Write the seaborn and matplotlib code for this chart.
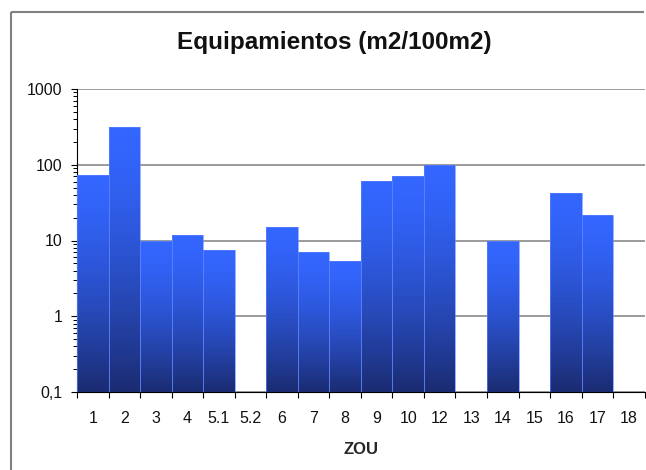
import numpy as np
import pandas as pd
import matplotlib
matplotlib.use("Agg")
import matplotlib.pyplot as plt
import matplotlib.ticker as mticker
from matplotlib.colors import to_rgb
from matplotlib.lines import Line2D
import seaborn as sns

categories = ['1', '2', '3', '4', '5.1', '5.2', '6', '7', '8', '9', '10',
              '12', '13', '14', '15', '16', '17', '18']
values = [73, 315, 10, 11.7, 7.5, 0, 15.3, 7.1, 5.4, 61, 70, 99, 0, 10, 0, 43, 22, 0]
ytick_values = [0.1, 1, 10, 100, 1000]
ytick_labels = ['0,1', '1', '10', '100', '1000']

TOP = np.array(to_rgb('#3366ff'))
BOTTOM = np.array(to_rgb('#1a2b70'))

sns.set_theme(style='white')
plt.rcParams['font.family'] = ['Liberation Sans', 'DejaVu Sans']

fig = plt.figure(figsize=(6.46, 4.70), dpi=100)
ax = fig.add_axes([77 / 646, 1 - 392 / 470, 1 - 77 / 646 - 0.002, (392 - 89) / 470])

df = pd.DataFrame({'ZOU': categories, 'valor': values})
sns.barplot(data=df, x='ZOU', y='valor', order=categories, width=1.0,
            color='#3366ff', saturation=1, linewidth=0, ax=ax, zorder=2)
ax.set_yscale('log')
ax.set_ylim(0.1, 1000)
ax.set_xlim(-0.5, len(categories) - 0.5)

# gradient fill per bar (bright top -> dark bottom)
N = 90
for p in list(ax.patches):
    h = p.get_height()
    if not np.isfinite(h) or h <= 0.1:
        p.set_visible(False)
        continue
    x0, w = p.get_x(), p.get_width()
    edges = np.logspace(-1, np.log10(h), N + 1)
    t_down = 1 - (np.arange(N) + 0.5) / N  # 1 at bottom, 0 at top
    f = t_down ** 1.5
    cols = [tuple(TOP * (1 - fi) + BOTTOM * fi) for fi in f]
    ax.bar(np.full(N, x0 + w / 2), np.diff(edges), bottom=edges[:-1], width=w,
           color=cols, linewidth=0, antialiased=False, zorder=3)
    p.set_facecolor('none')
    p.set_edgecolor('#5f84ff')
    p.set_linewidth(0.45)
    p.set_zorder(4)

# axes styling
ax.set_axisbelow(True)
ax.yaxis.set_major_locator(mticker.FixedLocator(ytick_values))
ax.yaxis.set_major_formatter(mticker.FixedFormatter(ytick_labels))
ax.yaxis.set_minor_locator(mticker.LogLocator(base=10, subs=np.arange(2, 10)))
ax.yaxis.set_minor_formatter(mticker.NullFormatter())
ax.grid(axis='y', which='major', color='#808080', linewidth=1.1)
ax.grid(axis='x', visible=False)

ax.set_xticks(range(len(categories)))
ax.set_xticklabels(categories)
ax.set_xticks(np.arange(len(categories) + 1) - 0.5, minor=True)

for s in ['top', 'right']:
    ax.spines[s].set_visible(False)
for s in ['left', 'bottom']:
    ax.spines[s].set_color('black')
    ax.spines[s].set_linewidth(0.8)

ax.tick_params(axis='y', which='major', direction='out', length=4, width=0.8,
               color='black', left=True, labelsize=11.5, pad=6.5, labelcolor='#111111')
ax.tick_params(axis='y', which='minor', direction='out', length=3.2, width=0.7,
               color='black', left=True)
ax.tick_params(axis='x', which='major', length=0, labelsize=11.5, pad=13.5,
               labelcolor='#111111')
ax.tick_params(axis='x', which='minor', direction='out', length=4, width=0.8,
               color='black', bottom=True)

ax.set_ylabel('')
ax.set_xlabel('ZOU', fontsize=12, fontweight='bold', labelpad=12)

fig.text(334 / 646, 1 - 42 / 470, 'Equipamientos (m2/100m2)', ha='center',
         va='center', fontsize=17.5, fontweight='bold', color='#111111')

# outer chart frame
fig.add_artist(Line2D([10.5 / 646, 10.5 / 646], [0, 1 - 11.5 / 470],
                      transform=fig.transFigure, color='#808080', linewidth=1.5,
                      solid_capstyle='butt'))
fig.add_artist(Line2D([10.5 / 646, 0.997], [1 - 11.5 / 470, 1 - 11.5 / 470],
                      transform=fig.transFigure, color='#808080', linewidth=1.5,
                      solid_capstyle='butt'))

fig.savefig('out.png', dpi=100)
